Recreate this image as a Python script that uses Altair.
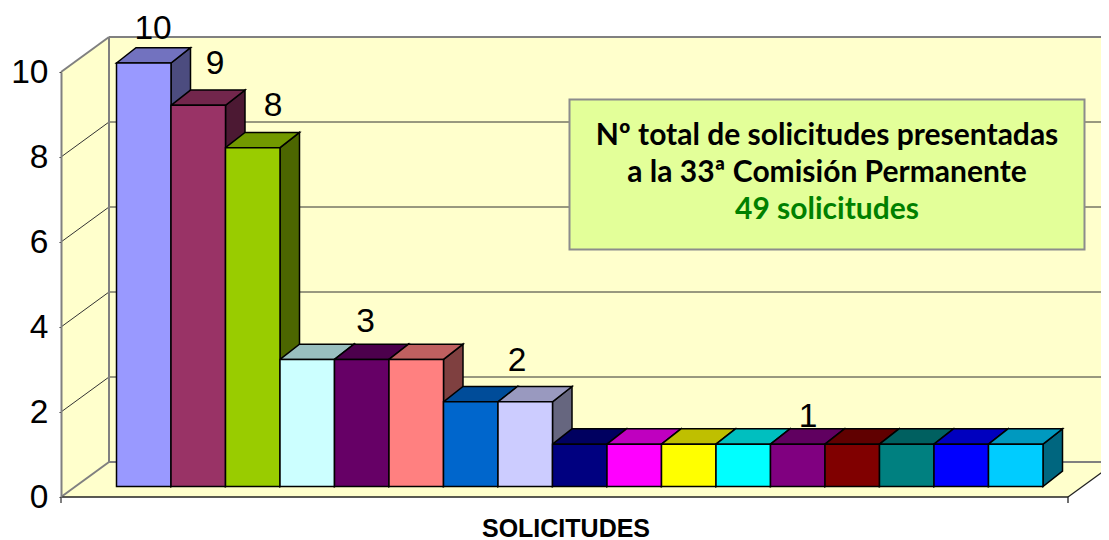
import altair as alt
import pandas as pd

values = [10, 9, 8, 3, 3, 3, 2, 2, 1, 1, 1, 1, 1, 1, 1, 1, 1]
colors = ["#9999FF", "#993366", "#99CC00", "#CCFFFF", "#660066", "#FF8080", "#0066CC", "#CCCCFF",
          "#000080", "#FF00FF", "#FFFF00", "#00FFFF", "#800080", "#800000", "#008080", "#0000FF", "#00CCFF"]
label_text = ["10", "9", "8", "3", "2", "1"]
y_ticks = [0, 2, 4, 6, 8, 10]
box_lines = ["Nº total de solicitudes presentadas", "a la 33ª Comisión Permanente", "49 solicitudes"]
box_colors = ["#000000", "#000000", "#008000"]
axis_title = "SOLICITUDES"

# geometry (pixels on the page)
PX0, SLOT, PXL, PXR = 116.5, 54.5, 61.0, 1068.0
PY0, UNIT = 497.0, 42.5
def X(p): return (p - PX0) / SLOT
def Y(p): return (PY0 - p) / UNIT
W, H = 1040, 425
XDOM = [X(61), X(1101)]
WDX, WDY = 48 / SLOT, 35 / UNIT      # wall depth
BDX, BDY = 19.5 / SLOT, 15.3 / UNIT  # bar depth
BASE = 10.5 / UNIT
VS = 42.35 / UNIT
LEFT, RIGHT = X(PXL), X(PXR)

def shade(c, f):
    r, g, b = [int(c[i:i + 2], 16) for i in (1, 3, 5)]
    return "#%02X%02X%02X" % (int(r * f), int(g * f), int(b * f))

x_enc = alt.X("x:Q", scale=alt.Scale(domain=XDOM, nice=False, zero=False), axis=None)
y_plain = alt.Y("y:Q", scale=alt.Scale(domain=[0, 10], nice=False, zero=False),
              axis=alt.Axis(values=y_ticks, title=None, grid=False, labelFontSize=33.5, labelFont="Liberation Sans",
                            labelColor="black", tickSize=2, tickColor="#333333", labelPadding=11,
                            domainColor="#808080", domainWidth=2, zindex=1, labelFlush=False, format="d"))
X2 = alt.X2("x2:Q")
Y2 = alt.Y2("y2:Q")

WALL = "#FFFFCC"
left_wall = pd.DataFrame({"x": [LEFT, LEFT + WDX], "y": [10, 10 + WDY], "y2": [0, WDY]})
back_wall = pd.DataFrame({"x": [LEFT + WDX, X(1101)], "y": [10 + WDY, 10 + WDY], "y2": [WDY, WDY]})
floor = pd.DataFrame({"x": [LEFT, LEFT + WDX, RIGHT, RIGHT + WDX],
                      "y": [0, WDY, WDY, WDY], "y2": [0, 0, 0, WDY]})
walls = [alt.Chart(d).mark_area(color=WALL, opacity=1).encode(x=x_enc, y=y_plain, y2=Y2)
         for d in [left_wall, back_wall, floor]]

grid_rows = []
for t in y_ticks[1:-1]:
    grid_rows.append({"x": LEFT, "x2": LEFT + WDX, "y": t, "y2": t + WDY})
    grid_rows.append({"x": LEFT + WDX, "x2": X(1101), "y": t + WDY, "y2": t + WDY})
grid = alt.Chart(pd.DataFrame(grid_rows)).mark_rule(color="#333333", strokeWidth=1).encode(x=x_enc, x2=X2, y=y_plain, y2=Y2)

edge_rows = [
    {"x": LEFT, "x2": LEFT + WDX, "y": 10, "y2": 10 + WDY},
    {"x": LEFT + WDX, "x2": X(1101), "y": 10 + WDY, "y2": 10 + WDY},
    {"x": LEFT + WDX, "x2": LEFT + WDX, "y": WDY, "y2": 10 + WDY},
    {"x": LEFT + WDX, "x2": X(1101), "y": WDY, "y2": WDY},
    {"x": LEFT, "x2": LEFT + WDX, "y": 0, "y2": WDY},
    {"x": LEFT, "x2": LEFT, "y": 0, "y2": Y(503)},
]
edges = alt.Chart(pd.DataFrame(edge_rows)).mark_rule(color="#808080", strokeWidth=2).encode(x=x_enc, x2=X2, y=y_plain, y2=Y2)

front_rows = [
    {"x": LEFT, "x2": RIGHT, "y": 0, "y2": 0},
    {"x": RIGHT, "x2": RIGHT + WDX, "y": 0, "y2": WDY},
    {"x": RIGHT, "x2": RIGHT, "y": 0, "y2": Y(503)},
]
fronts_line = alt.Chart(pd.DataFrame(front_rows)).mark_rule(color="#222222", strokeWidth=1.3).encode(x=x_enc, x2=X2, y=y_plain, y2=Y2)

front_df, side_rows, top_rows = [], [], []
for i, (v, c) in enumerate(zip(values, colors)):
    t = BASE + v * VS
    x0, x1 = float(i), float(i + 1)
    front_df.append({"x": x0, "x2": x1, "y": t, "y2": BASE, "c": c})
    s, tp = shade(c, 0.5), shade(c, 0.75)
    side_rows += [{"b": i, "x": x1, "y": t, "y2": BASE, "c": s},
                  {"b": i, "x": x1 + BDX, "y": t + BDY, "y2": BASE + BDY, "c": s}]
    top_rows += [{"b": i, "x": x0, "y": t, "y2": t, "c": tp},
                 {"b": i, "x": x0 + BDX, "y": t + BDY, "y2": t, "c": tp},
                 {"b": i, "x": x1, "y": t + BDY, "y2": t, "c": tp},
                 {"b": i, "x": x1 + BDX, "y": t + BDY, "y2": t + BDY, "c": tp}]
stroke = dict(stroke="black", strokeWidth=1.5, opacity=1)
col = alt.Color("c:N", scale=None, legend=None)
fill = alt.Fill("c:N", scale=None, legend=None)
sides = alt.Chart(pd.DataFrame(side_rows)).mark_area(**stroke).encode(x=x_enc, y=y_plain, y2=Y2, fill=fill, detail="b:N")
tops = alt.Chart(pd.DataFrame(top_rows)).mark_area(**stroke).encode(x=x_enc, y=y_plain, y2=Y2, fill=fill, detail="b:N")
fronts = alt.Chart(pd.DataFrame(front_df)).mark_rect(**stroke).encode(x=x_enc, x2=X2, y=y_plain, y2=Y2, fill=fill)

# data labels: centre-x and baseline-y on the page
label_px = [153, 215, 273, 365.5, 517, 808]
label_py = [38.5, 74, 116, 332, 371, 427]
labels = alt.Chart(pd.DataFrame({"t": label_text, "x": [X(p) for p in label_px], "y": [Y(p) for p in label_py]})).mark_text(
    font="Liberation Sans", fontSize=33.5, color="black", align="center", baseline="alphabetic"
).encode(x=x_enc, y=y_plain, text="t:N")

box = alt.Chart(pd.DataFrame({"x": [X(569.5)], "x2": [X(1084.5)], "y": [Y(99.5)], "y2": [Y(249.5)]})).mark_rect(
    fill="#E3FF99", stroke="#8C8C8C", strokeWidth=2, opacity=1).encode(x=x_enc, x2=X2, y=y_plain, y2=Y2)
box_text = alt.Chart(pd.DataFrame({"t": box_lines, "c": box_colors, "x": [X(827)] * 3, "y": [Y(145), Y(182), Y(219)]})).mark_text(
    font="Lato", fontWeight="bold", fontSize=30, align="center", baseline="alphabetic"
).encode(x=x_enc, y=y_plain, text="t:N", color=col)

title = alt.Chart(pd.DataFrame({"t": [axis_title], "x": [X(566)], "y": [Y(536.5)]})).mark_text(
    font="Liberation Sans", fontWeight="bold", fontSize=25, color="black", align="center", baseline="alphabetic"
).encode(x=x_enc, y=y_plain, text="t:N")

chart = alt.layer(*walls, grid, edges, fronts_line, sides, tops, fronts, labels, box, box_text, title).properties(
    width=W, height=H, padding={"left": 53, "top": 64, "right": 0, "bottom": 43},
    autosize=alt.AutoSizeParams(type="none"), background="white"
).configure_view(stroke=None)

chart.save("out.html", embed_options={"renderer": "svg", "actions": False})
